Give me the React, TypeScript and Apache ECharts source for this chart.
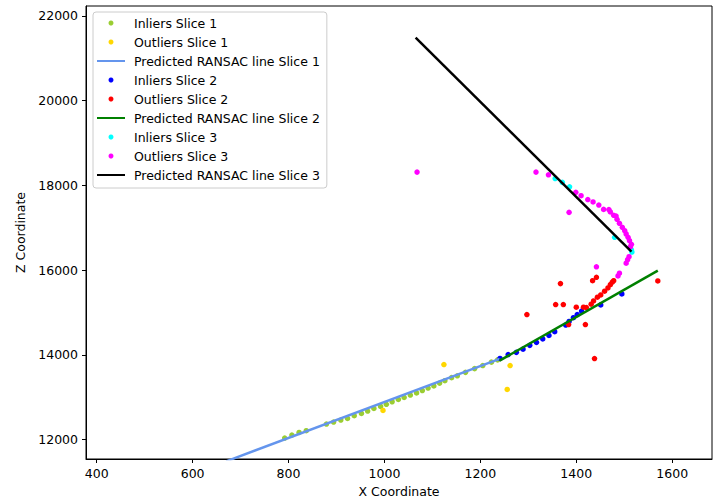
import React, { useEffect, useRef } from "react";
import * as echarts from "echarts";

const xTicks = [400, 600, 800, 1000, 1200, 1400, 1600];
const yTicks = [12000, 14000, 16000, 18000, 20000, 22000];

const inliers1 = [
  [792, 12040], [807, 12111], [822, 12172], [837, 12212], [879, 12370], [894, 12417],
  [909, 12464], [923, 12502], [937, 12566], [952, 12620], [965, 12676], [978, 12738],
  [992, 12785], [1004, 12835], [1016, 12896], [1029, 12950], [1041, 12997], [1054, 13055],
  [1067, 13104], [1079, 13160], [1091, 13220], [1103, 13270], [1115, 13336], [1126, 13394],
  [1140, 13465], [1152, 13508], [1169, 13590], [1188, 13678], [1205, 13751], [1223, 13831],
  [1236, 13885],
];
const outliers1 = [[997, 12691], [1124, 13775], [1262, 13751], [1256, 13186]];
const line1 = [[670, 11490], [1240, 13909]];

const inliers2 = [
  [1241, 13917], [1258, 14010], [1275, 14062], [1289, 14138], [1303, 14227], [1317, 14298],
  [1330, 14380], [1343, 14462], [1355, 14549], [1378, 14706], [1385, 14792], [1394, 14880],
  [1402, 14954], [1411, 15035], [1451, 15182], [1495, 15441],
];
const outliers2 = [
  [1297, 14953], [1367, 15684], [1357, 15189], [1373, 15189], [1400, 15127], [1415, 15127],
  [1421, 15118], [1419, 14717], [1384, 14717], [1438, 13916], [1431, 15198], [1436, 15276],
  [1444, 15363], [1451, 15417], [1459, 15505], [1466, 15582], [1471, 15660], [1475, 15717],
  [1478, 15754], [1434, 15754], [1442, 15834], [1570, 15747],
];
const line2 = [[1240, 13865], [1570, 15990]];

const inliers3 = [[1356, 18163], [1371, 18073], [1386, 17970], [1480, 16777], [1515, 16478], [1516, 16430]];
const outliers3 = [
  [1068, 18316], [1316, 18316], [1342, 18253], [1385, 17366], [1399, 17838], [1410, 17758],
  [1424, 17668], [1435, 17612], [1447, 17538], [1457, 17436], [1468, 17432], [1471, 17375],
  [1478, 17296], [1483, 17279], [1485, 17201], [1490, 17107], [1496, 17013], [1501, 16933],
  [1504, 16855], [1508, 16777], [1511, 16697], [1515, 16612], [1513, 16556], [1510, 16320],
  [1507, 16250], [1504, 16165], [1442, 16080], [1490, 15929], [1487, 15865],
];
const line3 = [[1065, 21491], [1515, 16438]];

const FONT = "'DejaVu Sans', sans-serif";

export default function App() {
  const ref = useRef<HTMLDivElement>(null);
  useEffect(() => {
    const chart = echarts.init(ref.current!, null, { renderer: "svg" });
    const scatter = (name: string, data: number[][], color: string) => ({
      name, type: "scatter", data, symbolSize: 5.5,
      itemStyle: { color, opacity: 1 }, clip: true,
    });
    const line = (name: string, data: number[][], color: string) => ({
      name, type: "line", data, symbol: "none", showSymbol: false,
      lineStyle: { color, width: 2.5 }, itemStyle: { color }, clip: true,
    });
    const textStyle = { fontFamily: FONT, fontSize: 12.5, color: "#000" };
    const hiddenDot = { opacity: 0, color: "rgba(0,0,0,0)", borderWidth: 0 };
    chart.setOption({
      animation: false,
      grid: {
        left: 86, right: 1, top: 6, bottom: 41, show: true, borderColor: "#000", borderWidth: 1,
        containLabel: false, outerBoundsMode: "none",
      },
      legend: {
        orient: "vertical", left: 93, top: 12, itemWidth: 28, itemHeight: 5, itemGap: 3,
        padding: [3, 7, 5, 3], backgroundColor: "rgba(255,255,255,0.8)",
        borderColor: "#cccccc", borderWidth: 1, borderRadius: 3, selectedMode: false,
        textStyle: { ...textStyle, lineHeight: 16, padding: [0, 0, 0, 4] },
        data: [
          { name: "Inliers Slice 1" },
          { name: "Outliers Slice 1" },
          { name: "Predicted RANSAC line Slice 1", itemStyle: hiddenDot },
          { name: "Inliers Slice 2" },
          { name: "Outliers Slice 2" },
          { name: "Predicted RANSAC line Slice 2", itemStyle: hiddenDot },
          { name: "Inliers Slice 3" },
          { name: "Outliers Slice 3" },
          { name: "Predicted RANSAC line Slice 3", itemStyle: hiddenDot },
        ],
      },
      xAxis: {
        type: "value", min: 377.7, max: 1683,
        name: "X Coordinate", nameLocation: "middle", nameGap: 25, nameTextStyle: textStyle,
        axisLine: { show: true, onZero: false, lineStyle: { color: "#000", width: 1 } },
        axisTick: { show: true, length: 4, lineStyle: { color: "#000" }, customValues: xTicks },
        axisLabel: { ...textStyle, margin: 8, customValues: xTicks, formatter: (v: number) => String(v) },
        splitLine: { show: false },
      },
      yAxis: {
        type: "value", min: 11545, max: 22236,
        name: "Z Coordinate", nameLocation: "middle", nameGap: 56, nameTextStyle: textStyle,
        axisLine: { show: true, onZero: false, lineStyle: { color: "#000", width: 1 } },
        axisTick: { show: true, length: 4, lineStyle: { color: "#000" }, customValues: yTicks },
        axisLabel: { ...textStyle, margin: 8, customValues: yTicks, formatter: (v: number) => String(v) },
        splitLine: { show: false },
      },
      series: [
        scatter("Inliers Slice 1", inliers1, "#9ACD32"),
        scatter("Outliers Slice 1", outliers1, "#FFD700"),
        line("Predicted RANSAC line Slice 1", line1, "#6495ED"),
        scatter("Inliers Slice 2", inliers2, "#0000FF"),
        scatter("Outliers Slice 2", outliers2, "#FF0000"),
        line("Predicted RANSAC line Slice 2", line2, "#008000"),
        scatter("Inliers Slice 3", inliers3, "#00FFFF"),
        scatter("Outliers Slice 3", outliers3, "#FF00FF"),
        line("Predicted RANSAC line Slice 3", line3, "#000000"),
      ],
    });
    return () => chart.dispose();
  }, []);
  return (
    <div
      ref={ref}
      style={{ position: "absolute", left: 0, top: 0, width: 713, height: 500, background: "#fff" }}
    />
  );
}
